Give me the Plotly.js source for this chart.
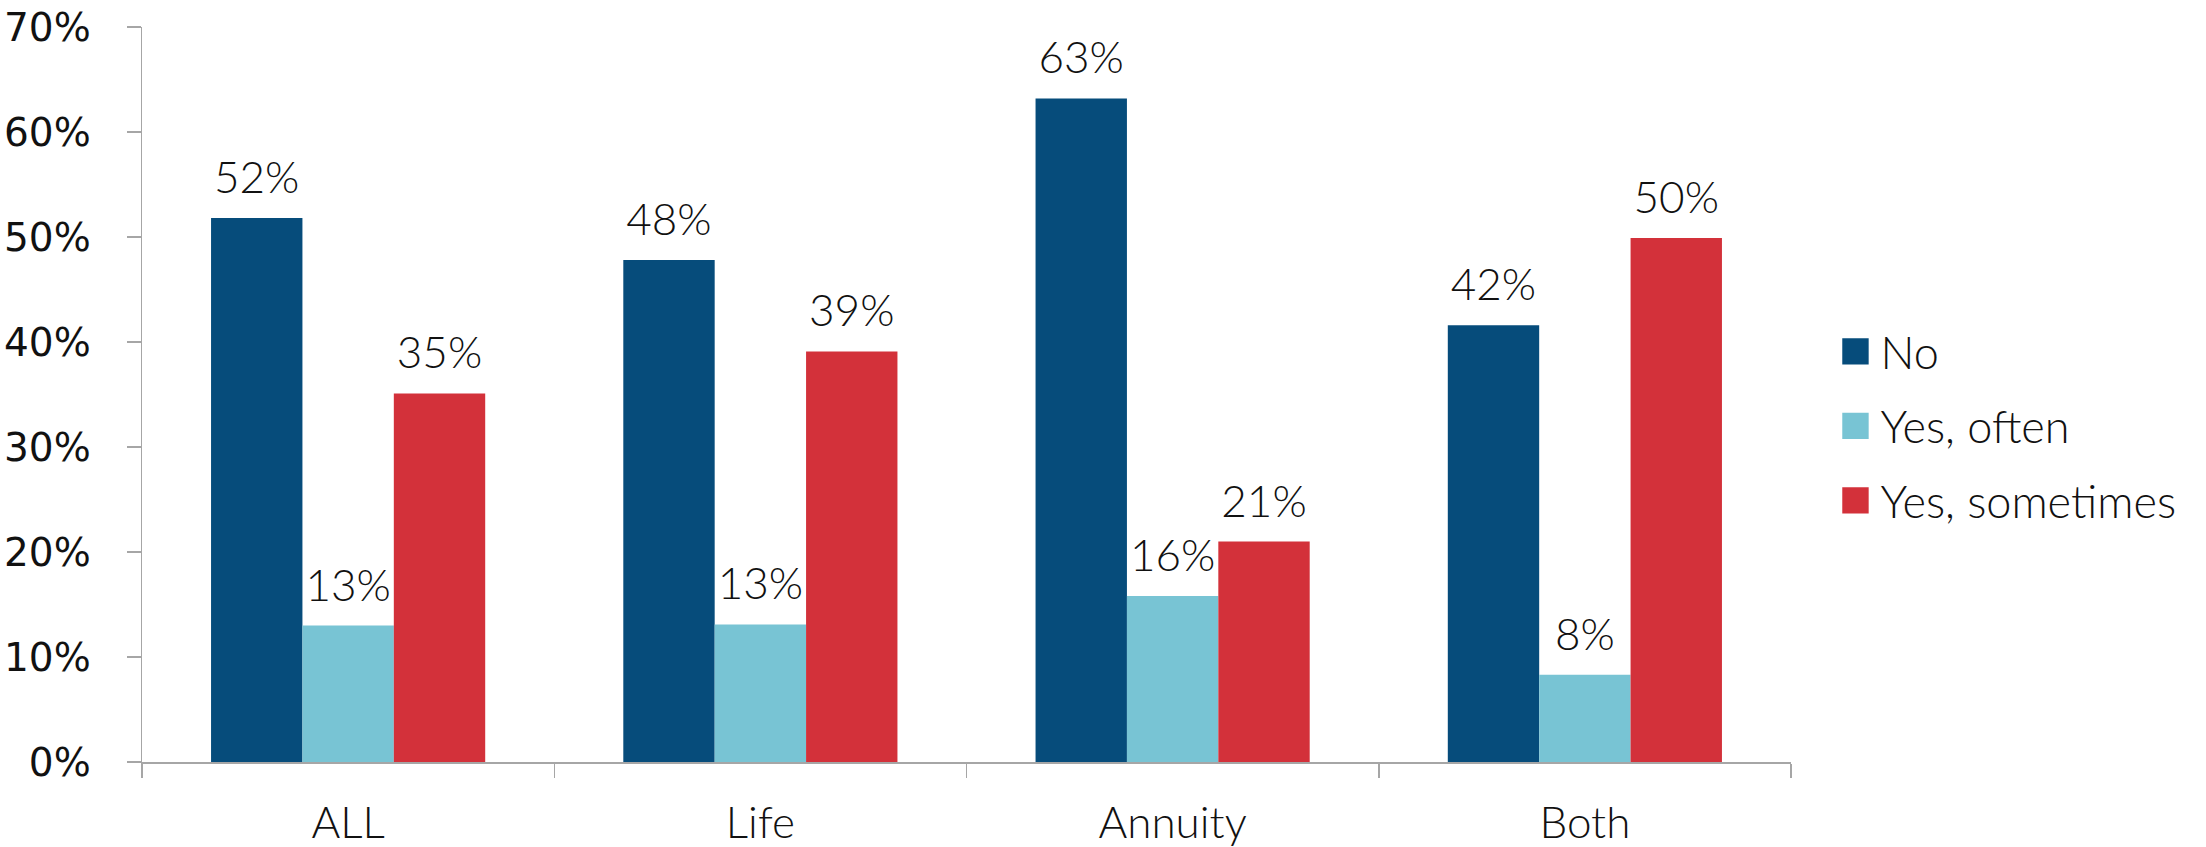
<!DOCTYPE html>
<html>
<head>
<meta charset="utf-8">
<script src="https://cdn.plot.ly/plotly-3.0.1.min.js"></script>
<style>html,body{margin:0;padding:0;background:#fff;}#chart{width:2206px;height:847px;}</style>
</head>
<body>
<div id="chart"></div>
<script>
const categories = ["ALL", "Life", "Annuity", "Both"];
const seriesNames = ["No", "Yes, often", "Yes, sometimes"];
const noValues = [51.8, 47.8, 63.2, 41.6];
const oftenValues = [13.0, 13.1, 15.8, 8.3];
const sometimesValues = [35.1, 39.1, 21.0, 49.9];
const yTickValues = [0, 10, 20, 30, 40, 50, 60, 70];
const colors = ["#064C7B", "#78C4D4", "#D3313A"];

const seriesValues = [noValues, oftenValues, sometimesValues];
const labelFont = {family: "Lato, Open Sans, sans-serif", size: 44, color: "#111", weight: 300};
const legendFont = {family: "Lato, Open Sans, sans-serif", size: 45, color: "#111", weight: 300};

const traces = seriesValues.map((vals, i) => ({
  type: "bar",
  name: seriesNames[i],
  x: categories,
  y: vals,
  marker: {color: colors[i], line: {width: 0}},
  text: vals.map(v => Math.round(v) + "%"),
  textposition: "outside",
  textfont: labelFont,
  cliponaxis: false,
  legendgroup: "g" + i,
  hoverinfo: "skip"
}));

const layout = {
  width: 2206,
  height: 847,
  margin: {l: 142, r: 415, t: 27, b: 85},
  paper_bgcolor: "#fff",
  plot_bgcolor: "#fff",
  barmode: "group",
  bargap: 0.335,
  bargroupgap: 0,
  showlegend: true,
  legend: {
    x: 1.03, xanchor: "left",
    y: 0.457, yanchor: "middle",
    font: legendFont,
    traceorder: "grouped",
    tracegroupgap: 13,
    itemwidth: 30
  },
  xaxis: {
    type: "category",
    showline: true,
    linecolor: "#A6A6A6",
    linewidth: 1.5,
    ticks: "outside",
    tickson: "boundaries",
    ticklen: 14,
    tickcolor: "#A6A6A6",
    tickwidth: 1.5,
    tickfont: labelFont,
    ticklabelstandoff: 22,
    showgrid: false,
    zeroline: false
  },
  yaxis: {
    range: [0, 70],
    tickvals: yTickValues,
    ticktext: yTickValues.map(v => v + "%"),
    showline: true,
    linecolor: "#A6A6A6",
    linewidth: 1.5,
    ticks: "outside",
    ticklen: 14,
    tickcolor: "#A6A6A6",
    tickwidth: 1.5,
    tickfont: {family: "DejaVu Sans, sans-serif", size: 39, color: "#111"},
    ticklabelstandoff: 28,
    showgrid: false,
    zeroline: false
  }
};

Plotly.newPlot("chart", traces, layout, {displayModeBar: false, staticPlot: true}).then(gd => {
  // enlarge legend swatches to match the reference's square markers
  gd.querySelectorAll(".legend .legendpoints path").forEach(p => {
    const t = p.getAttribute("transform") || "";
    p.setAttribute("transform", "translate(-5,0) " + t + " scale(2.2)");
  });
  // lift the value labels a little higher above the bars, as in the reference
  gd.querySelectorAll("text.bartext").forEach(el => {
    const t = el.getAttribute("transform") || "";
    el.setAttribute("transform", "translate(0,-13) " + t);
  });
});
</script>
</body>
</html>
